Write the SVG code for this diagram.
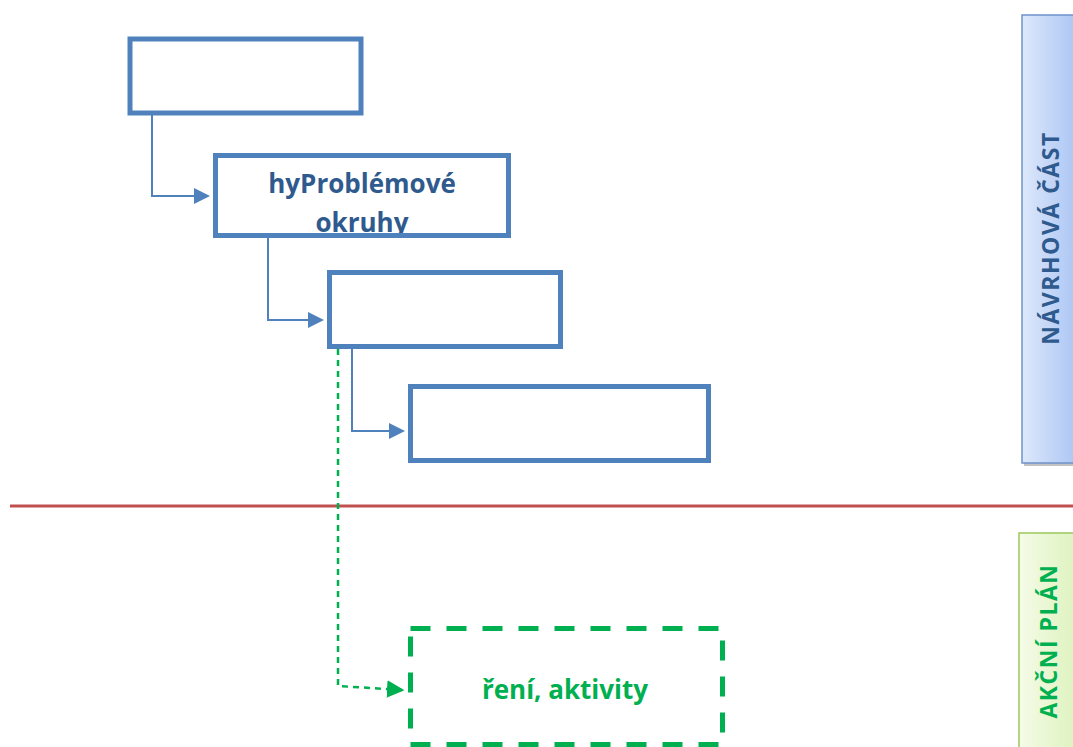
<svg xmlns="http://www.w3.org/2000/svg" width="1073" height="747" viewBox="0 0 1073 747">
<style>
.box{fill:#fff;stroke:#4F81BD;stroke-width:5}
.conn{fill:none;stroke:#4F81BD;stroke-width:2}
.gconn{fill:none;stroke:#00B050;stroke-width:2.5;stroke-dasharray:6 5}
.lbl{font-family:"Open Sans","Liberation Sans",sans-serif;font-weight:bold;font-size:26px;text-anchor:middle}
.side{font-family:"Open Sans","Liberation Sans",sans-serif;font-weight:bold;font-size:23px;letter-spacing:1.5px;text-anchor:middle}
</style>
<defs>
<marker id="ab" markerWidth="8" markerHeight="8" refX="7" refY="4" orient="auto" markerUnits="strokeWidth"><path d="M0,0 L8,4 L0,8 Z" fill="#4F81BD"/></marker>
<marker id="ag" markerWidth="7" markerHeight="7" refX="6" refY="3.5" orient="auto" markerUnits="strokeWidth"><path d="M0,0 L7,3.5 L0,7 Z" fill="#00B050"/></marker>
<linearGradient id="gb" x1="0" y1="0" x2="1" y2="0"><stop offset="0" stop-color="#DDE8FB"/><stop offset="1" stop-color="#A7C2F3"/></linearGradient>
<linearGradient id="gg" x1="0" y1="0" x2="1" y2="0"><stop offset="0" stop-color="#F5FBE8"/><stop offset="1" stop-color="#DDF2BC"/></linearGradient>
<clipPath id="c2"><rect x="218" y="158" width="288" height="75"/></clipPath>
</defs>
<line x1="10" y1="506" x2="1073" y2="506" stroke="#C0504D" stroke-width="3"/>
<g id="side-navrh">
<rect x="1024" y="18" width="60" height="448" fill="#999" opacity="0.6"/>
<rect x="1022" y="15" width="60" height="448" fill="url(#gb)" stroke="#6E93CC" stroke-width="1.5"/>
<text transform="translate(1059,238) rotate(-90)" class="side" fill="#2F5A8E">NÁVRHOVÁ ČÁST</text>
</g>
<g id="side-akcni">
<rect x="1019" y="533" width="60" height="220" fill="url(#gg)" stroke="#9BC95A" stroke-width="1.5"/>
<text transform="translate(1057,641) rotate(-90)" class="side" fill="#00B050">AKČNÍ PLÁN</text>
</g>
<g id="connectors">
<path class="conn" d="M152,115 V196 H208" marker-end="url(#ab)"/>
<path class="conn" d="M268,238 V320 H322" marker-end="url(#ab)"/>
<path class="conn" d="M352,349 V431 H403" marker-end="url(#ab)"/>
<path class="gconn" d="M338,349 V686 L402,690" marker-end="url(#ag)"/>
</g>
<g id="n1"><rect class="box" x="130" y="39" width="231" height="74"/></g>
<g id="n2"><rect class="box" x="215.5" y="155.5" width="293" height="80"/>
<g clip-path="url(#c2)"><text class="lbl" x="362" y="193" fill="#2F5A8E">hyProblémové</text><text class="lbl" x="362" y="232" fill="#2F5A8E">okruhy</text></g></g>
<g id="n3"><rect class="box" x="329.5" y="272.5" width="231" height="74"/></g>
<g id="n4"><rect class="box" x="410.5" y="386.5" width="298" height="74"/></g>
<g id="n5"><rect x="410.5" y="628.5" width="312" height="116" fill="none" stroke="#00B050" stroke-width="5" stroke-dasharray="20 16"/>
<text class="lbl" x="565" y="699" fill="#00B050">ření, aktivity</text></g>
</svg>
